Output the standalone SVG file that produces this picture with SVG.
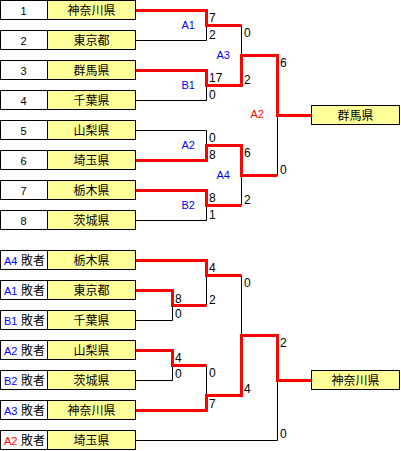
<svg xmlns="http://www.w3.org/2000/svg" width="401" height="451" viewBox="0 0 401 451">
<style>
.nm{fill:#ffff99;stroke:#000;stroke-width:1}
.nb{fill:#fff;stroke:#000;stroke-width:1}
.d{font-family:"Liberation Sans",sans-serif;font-size:11px;fill:#000;text-anchor:middle}
.j{font-family:"Noto Sans CJK JP",sans-serif;font-size:12px;fill:#000;text-anchor:middle}
.js{font-family:"Noto Sans CJK JP",sans-serif;font-size:12px;fill:#000}
.sc{font-family:"Liberation Sans",sans-serif;font-size:12px;fill:#000}
.lb{font-family:"Liberation Sans",sans-serif;font-size:11px;text-anchor:end}
.ls{font-family:"Liberation Sans",sans-serif;font-size:11px}
.blue{fill:#0000ff}
.red{fill:#ff0000}
.w{fill:none;stroke:#ff0000;stroke-width:3;stroke-linejoin:miter}
.l{fill:none;stroke:#000;stroke-width:1}
</style>
<rect width="401" height="451" fill="#fff"/>

<g id="connectors">
  <g class="l">
    <path d="M136 40.5H206.5V25.5"/>
    <path d="M136 100.5H206.5V85.5"/>
    <path d="M241.5 25.5V55.5"/>
    <path d="M136 130.5H206.5V145.5"/>
    <path d="M136 220.5H206.5V205.5"/>
    <path d="M241.5 205.5V175.5"/>
    <path d="M277.5 175.5V115.5"/>
    <path d="M206.5 275.5V305.5"/>
    <path d="M241.5 275.5V335.5"/>
    <path d="M136 320.5H172.5V305.5"/>
    <path d="M136 380.5H172.5V365.5"/>
    <path d="M206.5 365.5V395.5"/>
    <path d="M136 440.5H277.5V380.5"/>
  </g>
  <g class="w">
    <path d="M136 10.5H206.5V25.5H241.5"/>
    <path d="M136 70.5H206.5V85.5H241.5V55.5H277.5V115.5H312"/>
    <path d="M136 160.5H206.5V145.5H241.5V175.5H277.5"/>
    <path d="M136 190.5H206.5V205.5H241.5"/>
    <path d="M136 260.5H206.5V275.5H241.5"/>
    <path d="M136 290.5H172.5V305.5H206.5"/>
    <path d="M136 350.5H172.5V365.5H206.5"/>
    <path d="M136 410.5H206.5V395.5H241.5V335.5H277.5V380.5H312"/>
  </g>
  <g id="scores" class="sc">
    <text x="209" y="22">7</text><text x="209" y="38.5">2</text>
    <text x="209" y="82">17</text><text x="209" y="98.5">0</text>
    <text x="209" y="142">0</text><text x="209" y="158.5">8</text>
    <text x="209" y="202">8</text><text x="209" y="218.5">1</text>
    <text x="244" y="37">0</text><text x="244" y="83.5">2</text>
    <text x="244" y="157">6</text><text x="244" y="203.5">2</text>
    <text x="280" y="67">6</text><text x="280" y="173.5">0</text>
    <text x="209" y="272">4</text><text x="209" y="303.5">2</text>
    <text x="175" y="302.5">8</text><text x="175" y="318">0</text>
    <text x="244" y="287">0</text><text x="244" y="393">4</text>
    <text x="280" y="347">2</text><text x="280" y="437.5">0</text>
    <text x="175" y="362">4</text><text x="175" y="378">0</text>
    <text x="209" y="377">0</text><text x="209" y="408">7</text>
  </g>
  <g id="labels" class="lb">
    <text class="blue" x="195" y="29">A1</text>
    <text class="blue" x="195" y="89">B1</text>
    <text class="blue" x="230" y="58.5">A3</text>
    <text class="blue" x="195" y="149">A2</text>
    <text class="blue" x="195" y="209">B2</text>
    <text class="blue" x="230" y="179">A4</text>
    <text class="red" x="264" y="117.5">A2</text>
  </g>
</g>

<g id="n1"><rect class="nm" x="0.5" y="0.5" width="135" height="19"/><rect class="nb" x="0.5" y="0.5" width="47" height="19"/><text class="d" x="23.5" y="15">1</text><text class="j" x="91.5" y="14.5">神奈川県</text></g>
<g id="n2"><rect class="nm" x="0.5" y="30.5" width="135" height="19"/><rect class="nb" x="0.5" y="30.5" width="47" height="19"/><text class="d" x="23.5" y="45">2</text><text class="j" x="91.5" y="44.5">東京都</text></g>
<g id="n3"><rect class="nm" x="0.5" y="60.5" width="135" height="19"/><rect class="nb" x="0.5" y="60.5" width="47" height="19"/><text class="d" x="23.5" y="75">3</text><text class="j" x="91.5" y="74.5">群馬県</text></g>
<g id="n4"><rect class="nm" x="0.5" y="90.5" width="135" height="19"/><rect class="nb" x="0.5" y="90.5" width="47" height="19"/><text class="d" x="23.5" y="105">4</text><text class="j" x="91.5" y="104.5">千葉県</text></g>
<g id="n5"><rect class="nm" x="0.5" y="120.5" width="135" height="19"/><rect class="nb" x="0.5" y="120.5" width="47" height="19"/><text class="d" x="23.5" y="135">5</text><text class="j" x="91.5" y="134.5">山梨県</text></g>
<g id="n6"><rect class="nm" x="0.5" y="150.5" width="135" height="19"/><rect class="nb" x="0.5" y="150.5" width="47" height="19"/><text class="d" x="23.5" y="165">6</text><text class="j" x="91.5" y="164.5">埼玉県</text></g>
<g id="n7"><rect class="nm" x="0.5" y="180.5" width="135" height="19"/><rect class="nb" x="0.5" y="180.5" width="47" height="19"/><text class="d" x="23.5" y="195">7</text><text class="j" x="91.5" y="194.5">栃木県</text></g>
<g id="n8"><rect class="nm" x="0.5" y="210.5" width="135" height="19"/><rect class="nb" x="0.5" y="210.5" width="47" height="19"/><text class="d" x="23.5" y="225">8</text><text class="j" x="91.5" y="224.5">茨城県</text></g>

<g id="l1"><rect class="nm" x="0.5" y="250.5" width="135" height="19"/><rect class="nb" x="0.5" y="250.5" width="47" height="19"/><text class="ls blue" x="4" y="265">A4</text><text class="js" x="21" y="264.5">敗者</text><text class="j" x="91.5" y="264.5">栃木県</text></g>
<g id="l2"><rect class="nm" x="0.5" y="280.5" width="135" height="19"/><rect class="nb" x="0.5" y="280.5" width="47" height="19"/><text class="ls blue" x="4" y="295">A1</text><text class="js" x="21" y="294.5">敗者</text><text class="j" x="91.5" y="294.5">東京都</text></g>
<g id="l3"><rect class="nm" x="0.5" y="310.5" width="135" height="19"/><rect class="nb" x="0.5" y="310.5" width="47" height="19"/><text class="ls blue" x="4" y="325">B1</text><text class="js" x="21" y="324.5">敗者</text><text class="j" x="91.5" y="324.5">千葉県</text></g>
<g id="l4"><rect class="nm" x="0.5" y="340.5" width="135" height="19"/><rect class="nb" x="0.5" y="340.5" width="47" height="19"/><text class="ls blue" x="4" y="355">A2</text><text class="js" x="21" y="354.5">敗者</text><text class="j" x="91.5" y="354.5">山梨県</text></g>
<g id="l5"><rect class="nm" x="0.5" y="370.5" width="135" height="19"/><rect class="nb" x="0.5" y="370.5" width="47" height="19"/><text class="ls blue" x="4" y="385">B2</text><text class="js" x="21" y="384.5">敗者</text><text class="j" x="91.5" y="384.5">茨城県</text></g>
<g id="l6"><rect class="nm" x="0.5" y="400.5" width="135" height="19"/><rect class="nb" x="0.5" y="400.5" width="47" height="19"/><text class="ls blue" x="4" y="415">A3</text><text class="js" x="21" y="414.5">敗者</text><text class="j" x="91.5" y="414.5">神奈川県</text></g>
<g id="l7"><rect class="nm" x="0.5" y="430.5" width="135" height="19"/><rect class="nb" x="0.5" y="430.5" width="47" height="19"/><text class="ls red" x="4" y="445">A2</text><text class="js" x="21" y="444.5">敗者</text><text class="j" x="91.5" y="444.5">埼玉県</text></g>

<g id="champion"><rect class="nm" x="311.5" y="105.5" width="88" height="19"/><text class="j" x="355.5" y="120">群馬県</text></g>
<g id="champion2"><rect class="nm" x="311.5" y="370.5" width="88" height="19"/><text class="j" x="355.5" y="385">神奈川県</text></g>
</svg>
